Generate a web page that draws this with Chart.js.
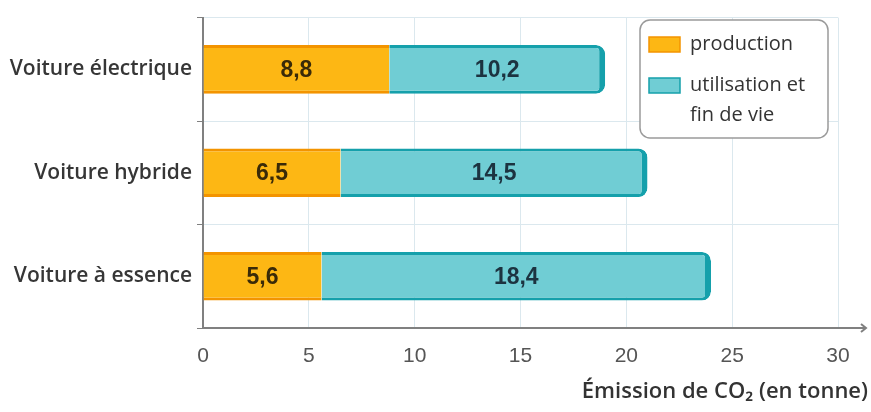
<!DOCTYPE html>
<html>
<head>
<meta charset="utf-8">
<script src="https://cdn.jsdelivr.net/npm/chart.js@4"></script>
<style>
  html, body { margin: 0; padding: 0; background: #fff; }
  #wrap { width: 871px; height: 412px; }
</style>
</head>
<body>
<div id="wrap"><canvas id="chart" width="871" height="412"></canvas></div>
<script>
// data
const categories = ['Voiture électrique', 'Voiture hybride', 'Voiture à essence'];
const production = [8.8, 6.5, 5.6];
const utilisation = [10.2, 14.5, 18.4];
const seriesNames = ['production', ['utilisation et', 'fin de vie']];
const xTitle = 'Émission de CO₂ (en tonne)';

const FONT = "'Open Sans', 'Noto Sans', sans-serif";
const NARROW = "'Liberation Sans Narrow', 'Liberation Sans', sans-serif";
const fmt = v => v.toFixed(1).replace('.', ',');

// numbers written in the middle of each segment
const valueLabels = {
  id: 'valueLabels',
  afterDatasetsDraw(chart) {
    const ctx = chart.ctx;
    ctx.save();
    ctx.font = 'bold 23px ' + NARROW;
    ctx.textAlign = 'center';
    ctx.textBaseline = 'middle';
    chart.data.datasets.forEach((ds, i) => {
      chart.getDatasetMeta(i).data.forEach((bar, j) => {
        const p = bar.getCenterPoint();
        ctx.fillStyle = i === 0 ? '#3a2a08' : '#1c3340';
        ctx.fillText(fmt(ds.data[j]), p.x, p.y + 1);
      });
    });
    ctx.restore();
  }
};

// boxed legend, axis arrow and axis title
const decorations = {
  id: 'decorations',
  afterDraw(chart) {
    const ctx = chart.ctx;
    const area = chart.chartArea;
    ctx.save();

    // arrow at the end of the x axis
    const y0 = area.bottom;
    ctx.strokeStyle = '#808080';
    ctx.lineWidth = 2;
    ctx.beginPath();
    ctx.moveTo(area.right, y0);
    ctx.lineTo(area.right + 28, y0);
    ctx.stroke();
    ctx.beginPath();
    ctx.moveTo(area.right + 23, y0 - 4);
    ctx.lineTo(area.right + 28, y0);
    ctx.lineTo(area.right + 23, y0 + 4);
    ctx.stroke();

    // axis title
    ctx.fillStyle = '#333';
    ctx.font = '600 22px ' + FONT;
    ctx.textAlign = 'right';
    ctx.textBaseline = 'middle';
    ctx.fillText(xTitle, 868, 392);

    // legend box
    const bx = 640, by = 20, bw = 188, bh = 118;
    ctx.beginPath();
    ctx.roundRect(bx, by, bw, bh, 10);
    ctx.fillStyle = '#fff';
    ctx.fill();
    ctx.strokeStyle = '#9a9a9a';
    ctx.lineWidth = 1.5;
    ctx.stroke();

    ctx.font = '20px ' + FONT;
    ctx.textAlign = 'left';
    const rows = [44, 85];
    chart.data.datasets.forEach((ds, i) => {
      const y = rows[i];
      ctx.fillStyle = ds.backgroundColor;
      ctx.fillRect(649, y - 7, 31, 15);
      ctx.strokeStyle = ds.borderColor;
      ctx.lineWidth = 1.5;
      ctx.strokeRect(649, y - 7, 31, 15);
      ctx.fillStyle = '#333';
      const lines = Array.isArray(ds.label) ? ds.label : [ds.label];
      lines.forEach((t, k) => ctx.fillText(t, 690, y + k * 30));
    });
    ctx.restore();
  }
};

new Chart(document.getElementById('chart'), {
  type: 'bar',
  data: {
    labels: categories,
    datasets: [
      {
        label: seriesNames[0],
        data: production,
        backgroundColor: '#fdb714',
        borderColor: '#f39400',
        borderWidth: { top: 3, bottom: 3, left: 0, right: 0 },
        borderSkipped: false,
      },
      {
        label: seriesNames[1],
        data: utilisation,
        backgroundColor: '#70cdd4',
        borderColor: '#15a0ab',
        borderWidth: { top: 3, bottom: 3, left: 0, right: 6 },
        borderRadius: { topRight: 9, bottomRight: 9 },
        borderSkipped: 'start',
      },
    ],
  },
  options: {
    indexAxis: 'y',
    responsive: false,
    animation: false,
    events: [],
    layout: { padding: { top: 13, right: 33, left: 0, bottom: 0 } },
    datasets: { bar: { categoryPercentage: 1, barPercentage: 0.47 } },
    plugins: {
      legend: { display: false },
      tooltip: { enabled: false },
    },
    scales: {
      x: {
        stacked: true,
        min: 0,
        max: 30,
        ticks: { stepSize: 5, padding: 16, color: '#555', font: { family: NARROW, size: 21 } },
        grid: { color: '#dbe8ee', lineWidth: 1, drawTicks: false },
        border: { color: '#808080', width: 2 },
        afterFit: s => { s.height = 84; },
      },
      y: {
        stacked: true,
        ticks: { padding: 5, color: '#363636', font: { family: FONT, size: 21, weight: '600' } },
        grid: { color: '#dbe8ee', lineWidth: 1, tickLength: 6, tickColor: '#808080', offset: true },
        border: { color: '#808080', width: 2 },
        afterFit: s => { s.width = 203; },
      },
    },
  },
  plugins: [valueLabels, decorations],
});
</script>
</body>
</html>
